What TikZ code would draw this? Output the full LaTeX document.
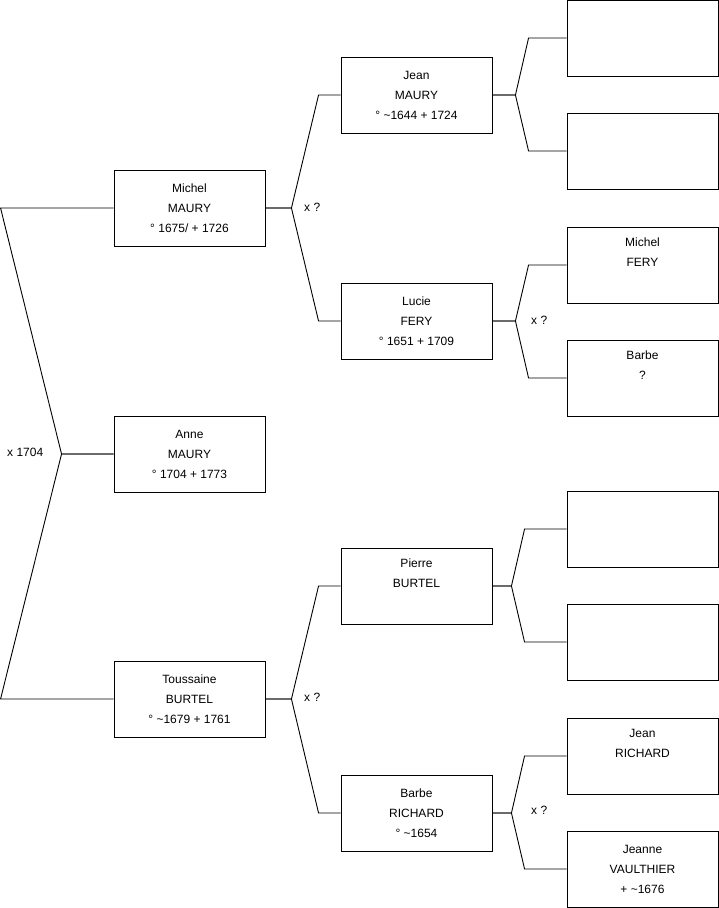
\documentclass[tikz,border=0pt]{standalone}
\usepackage{fontspec}
\setmainfont{Liberation Sans}
\usetikzlibrary{positioning,calc}

\begin{document}
\begin{tikzpicture}[
  x=1pt, y=-1pt,
  font=\fontsize{12}{20}\selectfont,
  person/.style={draw, line width=0.9pt, minimum width=151pt, minimum height=76pt, inner sep=0pt, align=center},
  link/.style={draw, line width=0.9pt},
  mariage/.style={anchor=west, inner sep=0pt}
]
\useasboundingbox (0,0) rectangle (719,908);

% generation 1
\node[person] (anne) at (189.5,454) {Anne\\MAURY\\° 1704 + 1773};

% generation 2
\node[person] (michel) at (189.5,208) {Michel\\MAURY\\° 1675/ + 1726};
\node[person] (tous)   at (189.5,699) {Toussaine\\BURTEL\\° \textasciitilde1679 + 1761};

% generation 3
\node[person] (jean)   at (416.5,95)  {Jean\\MAURY\\° \textasciitilde1644 + 1724};
\node[person] (lucie)  at (416.5,321) {Lucie\\FERY\\° 1651 + 1709};
\node[person] (pierre) at (416.5,586) {Pierre\\BURTEL\\\strut};
\node[person] (barbe)  at (416.5,813) {Barbe\\RICHARD\\° \textasciitilde1654};

% generation 4
\node[person] (ra) at (642.5,38)  {};
\node[person] (rb) at (642.5,151) {};
\node[person] (rc) at (642.5,265) {Michel\\FERY\\\strut};
\node[person] (rd) at (642.5,378) {Barbe\\?\\\strut};
\node[person] (re) at (642.5,529) {};
\node[person] (rf) at (642.5,642) {};
\node[person] (rg) at (642.5,756) {Jean\\RICHARD\\\strut};
\node[person] (rh) at (642.5,869) {Jeanne\\VAULTHIER\\+ \textasciitilde1676};

% brackets
\foreach \c in {michel, tous}
  \draw[link] (anne.west) -- ++(-52,0) -- ([xshift=-113pt]\c.west) -- (\c.west);
\foreach \p/\c in {michel/jean, michel/lucie, tous/pierre, tous/barbe}
  \draw[link] (\p.east) -- ++(26,0) -- ([xshift=-22pt]\c.west) -- (\c.west);
\foreach \p/\c/\d in {jean/ra/23, jean/rb/23, lucie/rc/23, lucie/rd/23, pierre/re/19, pierre/rf/19, barbe/rg/19, barbe/rh/19}
  \draw[link] (\p.east) -- ++(\d,0) -- ([xshift=-61pt+\d pt]\c.west) -- (\c.west);

% marriages
\node[mariage] (m0) at (7,452)   {x 1704};
\node[mariage] (m1) at (304,207) {x ?};
\node[mariage] (m2) at (304,697) {x ?};
\node[mariage] (m3) at (531,320) {x ?};
\node[mariage] (m4) at (531,810) {x ?};

\end{tikzpicture}
\end{document}
